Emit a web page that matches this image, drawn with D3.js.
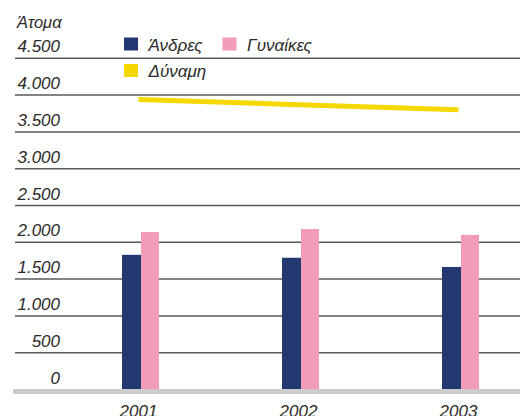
<!DOCTYPE html>
<html>
<head>
<meta charset="utf-8">
<script src="https://cdn.jsdelivr.net/npm/d3@7/dist/d3.min.js"></script>
<style>
  html, body { margin: 0; padding: 0; background: #fff; }
  svg { display: block; }
  text { font-family: "Liberation Sans", Arial, Helvetica, sans-serif; font-style: italic; fill: #2a2a2a; }
</style>
</head>
<body>
<svg id="chart" width="520" height="416"></svg>
<script>
// Workforce by year: men, women and total labour force (persons)
const years = ["2001", "2002", "2003"];
const men = [1830, 1790, 1665];
const women = [2140, 2180, 2100];
const labourForce = [3940, 3870, 3800];
const yTicks = [0, 500, 1000, 1500, 2000, 2500, 3000, 3500, 4000, 4500];
const seriesNames = ["Άνδρες", "Γυναίκες", "Δύναμη"];
const colors = { men: "#233870", women: "#f39bbb", line: "#f5d800" };

const W = 520, H = 416;
const svg = d3.select("#chart");

const x = d3.scalePoint().domain(years).range([141, 461]);
const y = d3.scaleLinear().domain([0, 4500]).range([389.5, 58.3]);
const barW = 19;

const fmt = v => d3.format(",")(v).replace(/,/g, ".");

// Horizontal gridlines
const grid = svg.append("g");
grid.selectAll("line")
  .data(yTicks.filter(t => t > 0))
  .join("line")
  .attr("x1", 15).attr("x2", W)
  .attr("y1", d => y(d)).attr("y2", d => y(d))
  .attr("stroke", "#5a5a5a").attr("stroke-width", 1.5);

// Y axis labels (right aligned, above each gridline)
const yAxis = d3.axisLeft(y).tickValues(yTicks).tickFormat(fmt).tickSize(0);
const ya = svg.append("g").attr("transform", "translate(60,0)").call(yAxis);
ya.select(".domain").remove();
ya.selectAll("text")
  .attr("x", 0).attr("dy", -6.5)
  .attr("text-anchor", "end")
  .style("font-size", "17px");

// Unit label
svg.append("text").attr("x", 17).attr("y", 28)
  .style("font-size", "16.5px").text("Άτομα");

// Bars
const bars = svg.append("g");
bars.selectAll("rect.men")
  .data(years.map((yr, i) => ({ yr, v: men[i] })))
  .join("rect").attr("class", "men")
  .attr("x", d => x(d.yr) - barW).attr("width", barW)
  .attr("y", d => y(d.v)).attr("height", d => y(0) - y(d.v))
  .attr("fill", colors.men);
bars.selectAll("rect.women")
  .data(years.map((yr, i) => ({ yr, v: women[i] })))
  .join("rect").attr("class", "women")
  .attr("x", d => x(d.yr)).attr("width", barW - 1)
  .attr("y", d => y(d.v)).attr("height", d => y(0) - y(d.v))
  .attr("fill", colors.women);

// Baseline band
svg.append("rect").attr("x", 13).attr("y", y(0) - 0.5)
  .attr("width", W - 13).attr("height", 5).attr("fill", "#cccccc");

// Labour force line
const line = d3.line().x(d => x(d.yr) - 2.5).y(d => y(d.v));
svg.append("path")
  .datum(years.map((yr, i) => ({ yr, v: labourForce[i] })))
  .attr("d", line)
  .attr("fill", "none").attr("stroke", colors.line).attr("stroke-width", 5);

// X axis labels
const xAxis = d3.axisBottom(x).tickSize(0);
const xa = svg.append("g").attr("transform", "translate(-3," + 405 + ")").call(xAxis);
xa.select(".domain").remove();
xa.selectAll("text").attr("y", 0).attr("dy", "0.72em").style("font-size", "17px");

// Legend
const legendItems = [
  { name: seriesNames[0], color: colors.men, x: 124, y: 37.5 },
  { name: seriesNames[1], color: colors.women, x: 222.5, y: 37.5 },
  { name: seriesNames[2], color: colors.line, x: 124, y: 64 }
];
const lg = svg.append("g").selectAll("g").data(legendItems).join("g")
  .attr("transform", d => `translate(${d.x},${d.y})`);
lg.append("rect").attr("width", 14).attr("height", 13).attr("fill", d => d.color);
lg.append("text").attr("x", 24.5).attr("y", 13)
  .style("font-size", "17px").text(d => d.name);
</script>
</body>
</html>
